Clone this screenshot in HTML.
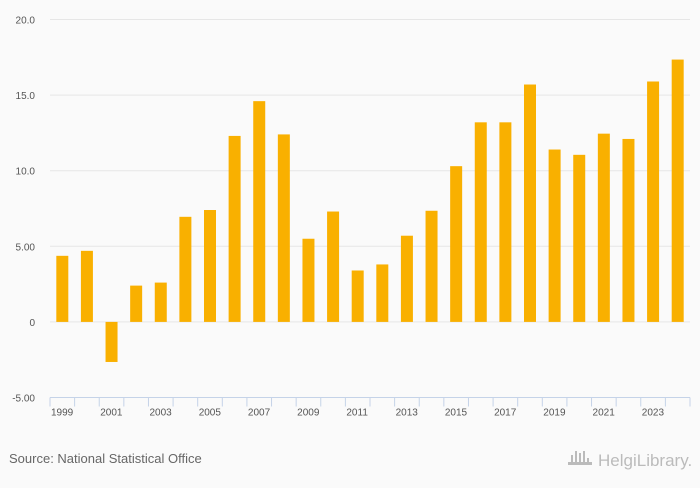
<!DOCTYPE html>
<html><head><meta charset="utf-8"><style>
html,body{margin:0;padding:0;background:#fafafa;}
body{width:700px;height:483px;overflow:hidden;font-family:"Liberation Sans",sans-serif;}
svg text{font-family:"Liberation Sans",sans-serif;}
</style></head><body>
<svg id="chart" width="700" height="483" xmlns="http://www.w3.org/2000/svg">
<rect width="700" height="483" fill="#fafafa"/>
<g id="grid"></g><g id="bars"></g><g id="axis"></g>
<text x="9" y="463" font-size="13" fill="#666">Source: National Statistical Office</text>
<g opacity="0.55">
<g fill="#888"><rect x="571" y="455" width="2" height="9"/><rect x="575" y="451" width="2" height="13"/><rect x="579" y="453" width="2" height="11"/><rect x="583" y="451" width="2" height="13"/><rect x="568" y="462" width="24" height="3"/><rect x="587" y="458" width="2" height="6"/></g>
<text x="598" y="466" font-size="17" fill="#888" font-family="Liberation Serif">HelgiLibrary.</text>
</g>
</svg>
<script>
const years=[1999,2000,2001,2002,2003,2004,2005,2006,2007,2008,2009,2010,2011,2012,2013,2014,2015,2016,2017,2018,2019,2020,2021,2022,2023,2024];
const values=[4.37,4.7,-2.65,2.4,2.6,6.95,7.4,12.3,14.6,12.4,5.5,7.3,3.4,3.8,5.7,7.35,10.3,13.2,13.2,15.7,11.4,11.05,12.45,12.1,15.9,17.35];
const yTicks=[-5,0,5,10,15,20];
const yTickLabels=["-5.00","0","5.00","10.0","15.0","20.0"];
const NS="http://www.w3.org/2000/svg";
const x0=50,x1=690,yTop=19.5,yBot=397.5,vMin=-5,vMax=20;
const band=(x1-x0)/years.length;
const y=v=>yBot-(v-vMin)/(vMax-vMin)*(yBot-yTop);
const xs=i=>x0+band*i;
function mk(t,a,p){const e=document.createElementNS(NS,t);for(const k in a)e.setAttribute(k,a[k]);p.appendChild(e);return e;}
const grid=document.getElementById('grid'),bars=document.getElementById('bars'),axis=document.getElementById('axis');
yTicks.forEach((v,i)=>{
  if(v>vMin){const l=mk('line',{x1:x0,x2:x1,y1:y(v),y2:y(v),stroke:'#e6e6e6','stroke-width':1},grid);
  
  }
  const t=mk('text',{x:35,y:y(v)+4,'text-anchor':'end','font-size':10,fill:'#555'},grid);
  t.textContent=yTickLabels[i];
  
  
});
values.forEach((v,i)=>{
  const cx=xs(i)+band/2,w=12;
  const r=mk('rect',{x:cx-w/2,y:Math.min(y(v),y(0)),width:w,height:Math.abs(y(v)-y(0)),fill:'#f9b000'},bars);
  
  
});
const al=mk('line',{x1:x0,x2:x1,y1:yBot,y2:yBot,stroke:'#c5d3e8','stroke-width':1},axis);


for(let i=0;i<=years.length;i++){
  const tk=mk('line',{x1:xs(i),x2:xs(i),y1:yBot,y2:yBot+9,stroke:'#c5d3e8','stroke-width':1},axis);
  
  
}
years.forEach((yr,i)=>{
  if(i%2)return;
  const t=mk('text',{x:xs(i)+1,y:yBot+18,'font-size':10,fill:'#555'},axis);
  t.textContent=yr;
  
  
});
</script>
</body></html>
